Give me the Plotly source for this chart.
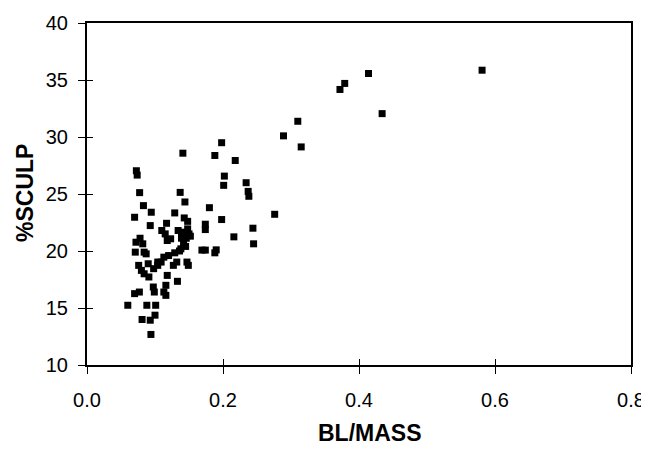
import plotly.graph_objects as go

bl_mass = [
    0.581, 0.414, 0.379, 0.372, 0.434, 0.310, 0.289, 0.315, 0.198, 0.141,
    0.188, 0.218, 0.202, 0.201, 0.234, 0.237, 0.238, 0.0726, 0.0738, 0.0774,
    0.083, 0.070, 0.0945, 0.093, 0.137, 0.144, 0.129, 0.143, 0.148, 0.117,
    0.180, 0.174, 0.174, 0.198, 0.216, 0.244, 0.245, 0.276, 0.169, 0.174,
    0.190, 0.188, 0.134, 0.139, 0.148, 0.150, 0.146, 0.139, 0.142, 0.138,
    0.145, 0.147, 0.149, 0.129, 0.132, 0.127, 0.133, 0.110, 0.115, 0.118,
    0.123, 0.113, 0.109, 0.104, 0.118, 0.116, 0.113, 0.116, 0.072, 0.071,
    0.078, 0.082, 0.084, 0.087, 0.076, 0.080, 0.084, 0.090, 0.091, 0.098,
    0.104, 0.0975, 0.099, 0.077, 0.070, 0.060, 0.088, 0.101, 0.100, 0.093,
    0.081, 0.094, 0.152, 0.120, 0.136, 0.141,
]
sculp = [
    35.86, 35.57, 34.70, 34.17, 32.05, 31.38, 30.10, 29.13, 29.50, 28.58,
    28.38, 27.94, 26.57, 25.76, 25.99, 25.23, 24.80, 27.04, 26.66, 25.12,
    23.98, 22.96, 23.40, 22.23, 25.14, 24.30, 23.34, 22.90, 22.60, 22.43,
    23.80, 22.35, 21.88, 22.76, 21.24, 22.00, 20.63, 23.22, 20.08, 20.08,
    20.10, 19.84, 21.80, 21.65, 21.94, 21.50, 21.12, 21.12, 20.63, 20.19,
    20.40, 19.03, 18.74, 19.84, 19.03, 18.74, 17.34, 21.80, 21.50, 20.92,
    21.07, 19.46, 19.03, 18.74, 17.86, 16.99, 16.40, 16.11, 20.77, 19.90,
    21.12, 20.63, 19.90, 19.75, 18.74, 18.30, 18.00, 18.88, 17.72, 18.45,
    19.03, 16.84, 16.40, 16.40, 16.26, 15.24, 15.24, 15.24, 14.37, 13.93,
    13.99, 12.68, 21.30, 19.60, 20.00, 21.40,
]

x_ticks = [0.0, 0.2, 0.4, 0.6, 0.8]
x_tick_text = ["0.0", "0.2", "0.4", "0.6", "0.8"]
y_ticks = [10, 15, 20, 25, 30, 35, 40]
x_title = "BL/MASS"
y_title = "%SCULP"

font_family = "Liberation Sans, Arial, sans-serif"

fig = go.Figure()
fig.add_trace(go.Scatter(
    x=bl_mass, y=sculp, mode="markers",
    marker=dict(symbol="square", size=7, color="black", line=dict(width=0)),
    showlegend=False, hoverinfo="x+y",
))
fig.add_trace(go.Scatter(x=[None], y=[None], xaxis="x2", yaxis="y2",
                         showlegend=False, hoverinfo="skip"))

axis_common = dict(showgrid=False, zeroline=False, showline=True,
                   linecolor="black", linewidth=2, mirror=True,
                   ticks="outside", ticklen=7, tickwidth=1, tickcolor="black",
                   ticklabeloverflow="allow", automargin=False,
                   tickfont=dict(family=font_family, size=20, color="black"))

title_font = dict(family=font_family, size=23, color="black")

fig.update_layout(
    width=649, height=438,
    margin=dict(l=79, r=26, t=15, b=81),
    paper_bgcolor="white", plot_bgcolor="white",
    xaxis=dict(range=[0, 0.8], tickvals=x_ticks, ticktext=x_tick_text,
               ticklabelstandoff=9, **axis_common),
    yaxis=dict(range=[10, 40], tickvals=y_ticks, ticklabelstandoff=6,
               **axis_common),
    xaxis2=dict(overlaying="x", matches="x", range=[0, 0.8], tickvals=x_ticks,
                ticks="inside", ticklen=6, tickcolor="black", showticklabels=False,
                showgrid=False, zeroline=False, showline=False, automargin=False),
    yaxis2=dict(overlaying="y", matches="y", range=[10, 40], tickvals=y_ticks,
                ticks="inside", ticklen=6, tickcolor="black", showticklabels=False,
                showgrid=False, zeroline=False, showline=False, automargin=False),
    annotations=[
        dict(text="<b>" + x_title + "</b>", xref="paper", yref="paper",
             x=0.52, y=-0.199, xanchor="center", yanchor="middle",
             showarrow=False, font=title_font),
        dict(text="<b>" + y_title + "</b>", xref="paper", yref="paper",
             x=-0.114, y=0.503, xanchor="center", yanchor="middle",
             textangle=-90, showarrow=False, font=title_font),
    ],
)

fig.write_html("out.html")
